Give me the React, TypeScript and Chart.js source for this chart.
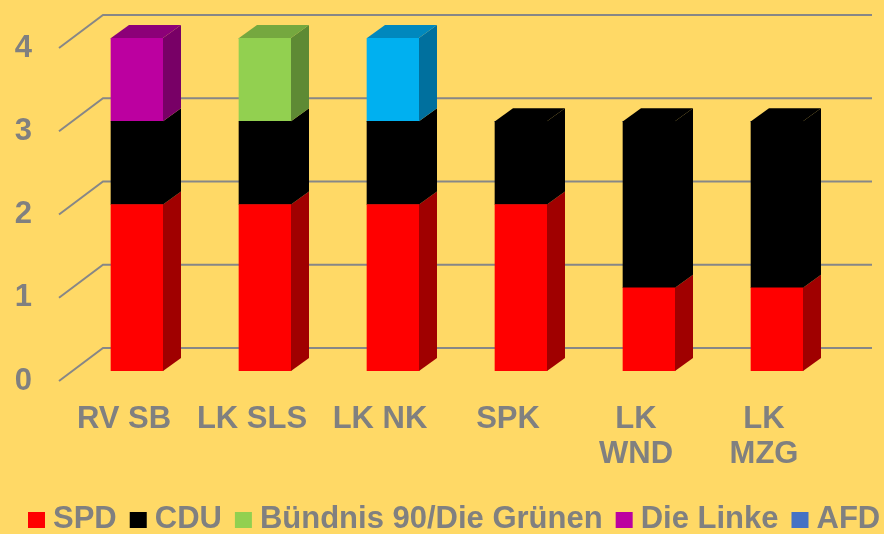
import React, { useEffect, useRef } from "react";
import { Chart, registerables } from "chart.js";

Chart.register(...registerables);

// ---- data ----
const categories: string[][] = [["RV SB"], ["LK SLS"], ["LK NK"], ["SPK"], ["LK", "WND"], ["LK", "MZG"]];
const seriesNames = ["SPD", "CDU", "Bündnis 90/Die Grünen", "Die Linke", "AFD", "Sonstige"];
const spdValues = [2, 2, 2, 2, 1, 1];
const cduValues = [1, 1, 1, 1, 2, 2];
const grueneValues = [0, 1, 0, 0, 0, 0];
const linkeValues = [1, 0, 0, 0, 0, 0];
const afdValues = [0, 0, 0, 0, 0, 0];
const sonstigeValues = [0, 0, 1, 0, 0, 0];
const yTickValues = [0, 1, 2, 3, 4];

// ---- styles ----
const BG = "#FFD966";
const TEXT = "#808080";
const GRID = "#878787";
const FONT_FAMILY = "'Liberation Sans', Arial, Helvetica, sans-serif";
const frontColors = ["#FF0000", "#000000", "#92D050", "#BC00A0", "#4472C4", "#00B0F0"];
const sideColors = ["#A00000", "#000000", "#5E8A34", "#780066", "#2C4C85", "#00709E"];
const topColors = ["#C00000", "#000000", "#75A83F", "#8C0078", "#345A9C", "#0088BE"];
const DEPTH_X = 18;
const DEPTH_Y = -13;

const seriesValues = [spdValues, cduValues, grueneValues, linkeValues, afdValues, sonstigeValues];

const bgPlugin = {
  id: "bg",
  beforeDraw(chart: any) {
    const ctx = chart.ctx;
    ctx.save();
    ctx.fillStyle = BG;
    ctx.fillRect(0, 0, chart.width, chart.height);
    ctx.restore();
  },
};

const gridPlugin = {
  id: "grid3d",
  beforeDatasetsDraw(chart: any) {
    const ctx = chart.ctx;
    const ys = chart.scales.y;
    const area = chart.chartArea;
    ctx.save();
    ctx.strokeStyle = GRID;
    ctx.lineWidth = 2;
    for (const v of yTickValues) {
      const yb = ys.getPixelForValue(v);
      ctx.beginPath();
      ctx.moveTo(area.left - 14, yb + 10);
      ctx.lineTo(area.left + 30, yb - 23);
      ctx.lineTo(area.right + 31, yb - 23);
      ctx.stroke();
    }
    ctx.restore();
  },
};

const bar3dPlugin = {
  id: "bar3d",
  afterDatasetsDraw(chart: any) {
    const ctx = chart.ctx;
    ctx.save();
    for (let i = 0; i < categories.length; i++) {
      let topEl: any = null;
      let topIdx = -1;
      chart.data.datasets.forEach((ds: any, d: number) => {
        const v = ds.data[i];
        if (!v) return;
        const el = chart.getDatasetMeta(d).data[i];
        const { x, y, base, width } = el.getProps(["x", "y", "base", "width"], true);
        const xr = x + width / 2;
        ctx.fillStyle = sideColors[d];
        ctx.beginPath();
        ctx.moveTo(xr, base);
        ctx.lineTo(xr + DEPTH_X, base + DEPTH_Y);
        ctx.lineTo(xr + DEPTH_X, y + DEPTH_Y);
        ctx.lineTo(xr, y);
        ctx.closePath();
        ctx.fill();
        topEl = { x, y, width };
        topIdx = d;
      });
      if (topEl) {
        const xl = topEl.x - topEl.width / 2;
        const xr = topEl.x + topEl.width / 2;
        ctx.fillStyle = topColors[topIdx];
        ctx.beginPath();
        ctx.moveTo(xl, topEl.y);
        ctx.lineTo(xl + DEPTH_X, topEl.y + DEPTH_Y);
        ctx.lineTo(xr + DEPTH_X, topEl.y + DEPTH_Y);
        ctx.lineTo(xr, topEl.y);
        ctx.closePath();
        ctx.fill();
      }
    }
    ctx.restore();
  },
};

const legendPlugin = {
  id: "customLegend",
  afterDraw(chart: any) {
    const ctx = chart.ctx;
    ctx.save();
    ctx.font = `bold 31px ${FONT_FAMILY}`;
    ctx.textBaseline = "middle";
    ctx.textAlign = "left";
    let x = 28;
    const yMid = 520;
    chart.data.datasets.forEach((ds: any, d: number) => {
      ctx.fillStyle = frontColors[d];
      ctx.fillRect(x, yMid - 8, 17, 16);
      x += 17 + 8;
      ctx.fillStyle = TEXT;
      ctx.fillText(ds.label, x, yMid - 1);
      x += ctx.measureText(ds.label).width + 13;
    });
    ctx.restore();
  },
};

export default function App() {
  const canvasRef = useRef<HTMLCanvasElement | null>(null);

  useEffect(() => {
    const canvas = canvasRef.current;
    if (!canvas) return;
    const chart = new Chart(canvas, {
      type: "bar",
      data: {
        labels: categories,
        datasets: seriesNames.map((name, d) => ({
          label: name,
          data: seriesValues[d],
          backgroundColor: frontColors[d],
          borderWidth: 0,
          barThickness: 52,
        })),
      },
      options: {
        responsive: false,
        animation: false,
        layout: { padding: { left: 0, top: 38, right: 43, bottom: 0 } },
        plugins: {
          legend: { display: false },
          tooltip: { enabled: false },
        },
        scales: {
          x: {
            stacked: true,
            offset: true,
            grid: { display: false, drawTicks: false },
            border: { display: false },
            ticks: {
              color: TEXT,
              font: { family: FONT_FAMILY, size: 31, weight: "bold", lineHeight: 1.16 },
              padding: 30,
              labelOffset: -13,
              autoSkip: false,
              maxRotation: 0,
              minRotation: 0,
            },
            afterFit(scale: any) {
              scale.height = 163;
              scale.paddingLeft = 0;
              scale.paddingRight = 0;
            },
          },
          y: {
            stacked: true,
            min: 0,
            max: 4,
            grid: { display: false, drawTicks: false },
            border: { display: false },
            ticks: {
              stepSize: 1,
              color: TEXT,
              font: { family: FONT_FAMILY, size: 31, weight: "bold" },
              padding: 41,
              labelOffset: 10,
            },
            afterFit(scale: any) {
              scale.width = 73;
              scale.paddingTop = 0;
              scale.paddingBottom = 0;
            },
          },
        },
      },
      plugins: [bgPlugin, gridPlugin, bar3dPlugin, legendPlugin],
    } as any);
    return () => chart.destroy();
  }, []);

  return (
    <div style={{ position: "absolute", left: 0, top: 0, width: 884, height: 534, background: BG, overflow: "hidden" }}>
      <canvas ref={canvasRef} width={884} height={534} style={{ display: "block" }} />
    </div>
  );
}
